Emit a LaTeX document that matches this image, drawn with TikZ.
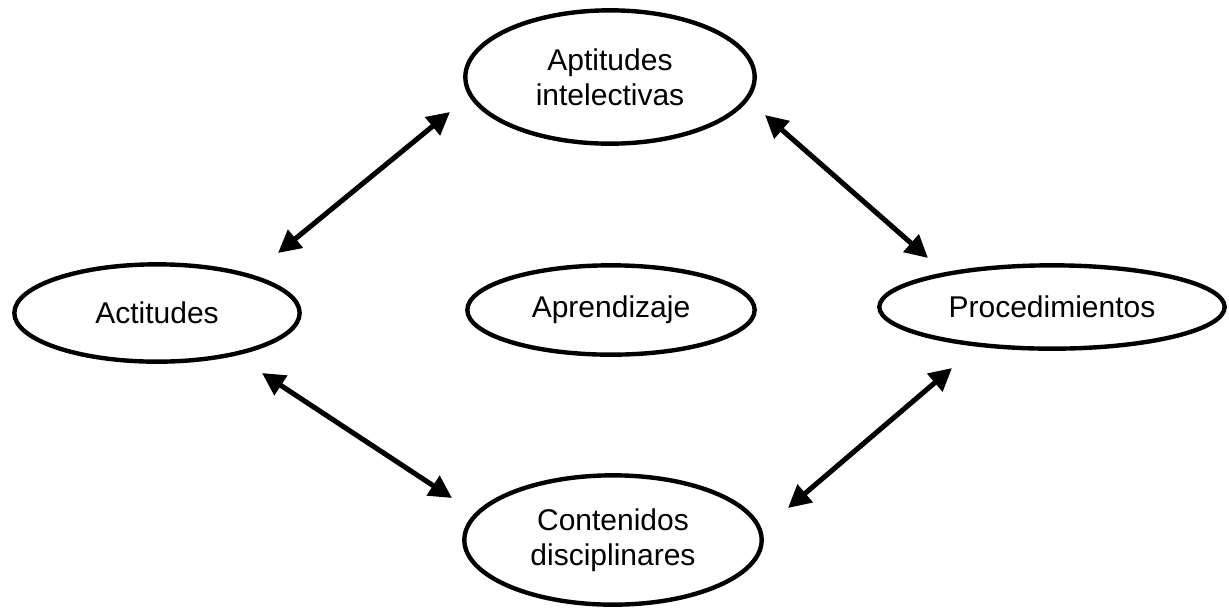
\documentclass[tikz,border=0pt]{standalone}
\usepackage{fontspec}
\setmainfont{Liberation Sans}
\usetikzlibrary{shapes.geometric,arrows.meta}
\begin{document}
\begin{tikzpicture}[x=0.75pt,y=-0.75pt,
  oval/.style={ellipse,draw,line width=3.3pt,inner sep=0pt,align=center,
    font=\fontsize{22.5pt}{26pt}\selectfont},
  link/.style={line width=3.8pt,{Triangle[length=17pt,width=17pt]}-{Triangle[length=17pt,width=17pt]}}]
\useasboundingbox (0,0) rectangle (1229,612);
\node[oval,minimum width=217pt,minimum height=100pt] (apt) at (610,77) {Aptitudes\\intelectivas};
\node[oval,minimum width=214pt,minimum height=73pt] (act) at (157,313) {Actitudes};
\node[oval,minimum width=215.5pt,minimum height=67pt] (apr) at (611,310) {Aprendizaje};
\node[oval,minimum width=259pt,minimum height=62.5pt] (pro) at (1052,307) {Procedimientos};
\node[oval,minimum width=223pt,minimum height=97pt] (con) at (613,540) {Contenidos\\disciplinares};
\coordinate (a1) at (278,253); \coordinate (a2) at (450,112);
\coordinate (b1) at (765,115); \coordinate (b2) at (928,258);
\coordinate (c1) at (262,373); \coordinate (c2) at (452,498);
\coordinate (d1) at (952,368); \coordinate (d2) at (788,508);
\draw[link] (a1) -- (a2);
\draw[link] (b1) -- (b2);
\draw[link] (c1) -- (c2);
\draw[link] (d1) -- (d2);
\end{tikzpicture}
\end{document}
